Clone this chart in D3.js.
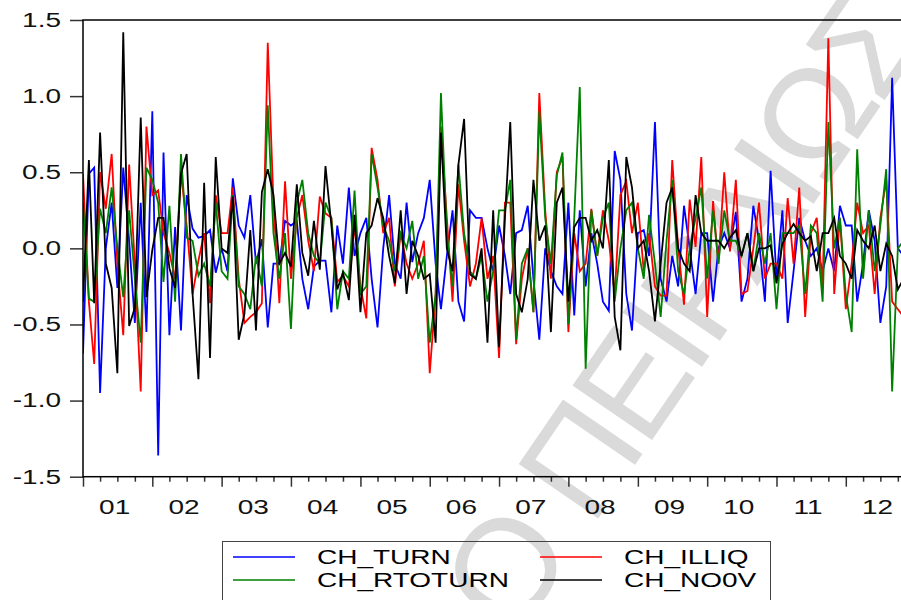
<!DOCTYPE html>
<meta charset="utf-8">
<style>
body { margin: 0; background: #fff; }
svg { display: block; font-family: "Liberation Sans", Arial, sans-serif; }
.axis text { font-size: 20px; fill: #111; }
.axis path { display: none; }
.axis line { stroke: #333; }
.series { fill: none; stroke-width: 1.8; stroke-linejoin: miter; }
.legend text { font-size: 20px; fill: #000; }
.mark { font-size: 140px; fill: #dadada; letter-spacing: -6px; }
</style>
<svg width="901" height="600"></svg>
<script src="https://cdn.jsdelivr.net/npm/d3@7"></script>
<script>

// monthly observations, 2001M01 onwards
var chTurn = [
  -0.69, 0.49, 0.53, -0.95, 0.0, 0.3, -0.26, 0.53, 0.05, -0.49, 0.3, -0.55,
  0.9, -1.36, 0.63, -0.57, 0.14, -0.54, 0.35, 0.13, 0.07, 0.08, 0.12, -0.16,
  0.0, -0.15, 0.46, 0.15, 0.07, 0.35, -0.1, 0.06, -0.52, -0.1, -0.1, 0.18,
  0.15, 0.18, -0.2, -0.4, -0.12, -0.08, -0.08, -0.42, 0.15, -0.1, 0.4, -0.05,
  0.1, 0.2, -0.2, -0.52, 0.0, 0.35, -0.1, -0.2, 0.3, -0.09, 0.1, 0.2,
  0.45, -0.1, -0.4, -0.05, 0.25, -0.35, -0.48, 0.25, 0.2, 0.2, 0.0, -0.15,
  0.15, -0.05, -0.3, 0.1, 0.12, 0.28, -0.2, -0.6, 0.0, -0.15, -0.25, -0.3,
  0.3, -0.44, 0.25, -0.25, 0.1, -0.1, -0.35, -0.41, 0.64, 0.45, -0.3, -0.54,
  0.1, 0.12, -0.05, 0.83, -0.2, -0.35, -0.05, -0.25, 0.28, 0.0, -0.3, 0.1,
  0.1, -0.35, 0.0, 0.1, 0.0, 0.24, -0.35, -0.2, 0.28, 0.05, -0.35, 0.51,
  -0.2, 0.25, -0.49, -0.15, 0.2, 0.05, -0.05, 0.0, -0.15, 0.0, -0.15, 0.28,
  0.15, 0.15, -0.35, -0.1, 0.25, 0.05, -0.49, -0.25, 1.12, 0.0, -0.05
];

var chIlliq = [
  0.49, -0.35, -0.76, 0.5, 0.26, 0.62, -0.1, -0.57, 0.55, -0.1, -0.94, 0.8,
  0.35, 0.38, 0.1, -0.03, -0.2, 0.5, 0.15, -0.3, -0.08, 0.1, -0.36, 0.35,
  0.1, 0.1, 0.4, -0.2, -0.49, -0.45, -0.42, -0.36, 1.35, 0.3, -0.36, 0.44,
  -0.2, 0.2, 0.35, 0.05, -0.15, 0.34, 0.23, 0.2, -0.22, -0.18, -0.25, 0.15,
  -0.25, -0.46, 0.66, 0.45, 0.1, 0.2, -0.25, 0.1, -0.1, -0.2, -0.1, 0.05,
  -0.82, -0.3, 0.8, 0.2, -0.35, 0.42, 0.05, -0.25, -0.1, 0.2, -0.2, -0.05,
  -0.72, 0.3, 0.3, -0.63, -0.2, 0.0, -0.42, 1.02, 0.25, -0.2, 0.5, 0.6,
  -0.55, 0.1, -0.15, -0.1, 0.26, -0.05, 0.25, 0.05, -0.3, 0.35, 0.44, 0.1,
  0.3, -0.15, 0.1, -0.25, -0.31, -0.31, 0.58, 0.01, -0.37, 0.32, 0.01, 0.6,
  -0.45, 0.31, -0.1, 0.5, -0.02, 0.45, -0.3, -0.28, 0.0, 0.3, -0.2, -0.1,
  -0.1, -0.2, 0.33, -0.1, 0.4, -0.45, 0.1, 0.2, -0.25, 1.38, -0.3, 0.2,
  -0.4, -0.1, 0.3, 0.1, 0.15, -0.3, 0.2, 0.45, -0.35, -0.4, -0.45
];

var chRtoturn = [
  0.3, -0.33, -0.35, 0.26, 0.1, 0.4, 0.0, -0.32, 0.25, -0.2, -0.62, 0.53,
  0.45, 0.3, -0.22, 0.28, -0.35, 0.62, 0.07, 0.05, -0.18, -0.1, -0.25, 0.3,
  -0.15, -0.2, 0.35, -0.25, -0.3, -0.4, -0.05, -0.25, 0.94, 0.1, -0.2, 0.1,
  -0.53, 0.3, 0.45, 0.1, -0.05, -0.1, 0.3, 0.2, -0.4, -0.15, -0.2, 0.38,
  -0.3, -0.25, 0.62, 0.4, 0.15, 0.05, -0.15, 0.1, 0.0, 0.18, -0.2, -0.05,
  -0.62, -0.3, 1.02, 0.1, -0.25, 0.55, 0.1, -0.15, -0.2, -0.05, -0.35, -0.15,
  0.25, 0.25, 0.45, -0.6, -0.1, 0.0, -0.42, 0.9, 0.2, -0.1, 0.48, 0.63,
  -0.5, 0.2, 1.06, -0.79, 0.25, -0.05, 0.2, 0.3, -0.35, 0.0, 0.25, 0.3,
  0.0, -0.2, 0.22, -0.1, -0.45, 0.05, 0.45, -0.15, -0.3, 0.0, 0.2, 0.4,
  -0.2, 0.25, -0.1, 0.25, 0.05, 0.05, -0.05, 0.1, -0.15, 0.1, -0.1, 0.1,
  -0.4, 0.1, 0.1, 0.1, 0.15, -0.3, 0.15, 0.1, -0.35, 0.83, 0.0, 0.2,
  -0.3, -0.55, 0.65, -0.2, 0.25, -0.15, 0.15, 0.52, -0.94, 0.0, 0.05
];

var chNo0v = [
  -0.35, 0.58, -0.36, 0.76, -0.1, -0.26, -0.82, 1.42, -0.51, -0.39, 0.86, -0.32,
  -0.01, 0.2, 0.2, -0.13, -0.26, 0.49, 0.62, -0.3, -0.86, 0.43, -0.72, 0.6,
  0.0, -0.03, 0.34, -0.6, -0.43, 0.12, -0.54, 0.37, 0.52, 0.35, -0.1, -0.03,
  -0.12, 0.42, -0.03, -0.18, 0.18, -0.14, 0.54, 0.15, -0.27, -0.16, -0.34, 0.22,
  -0.42, 0.1, 0.15, 0.33, 0.2, -0.05, -0.23, 0.25, -0.3, 0.05, -0.05, -0.2,
  -0.17, -0.62, 0.76, 0.0, -0.15, 0.55, 0.85, -0.17, -0.2, 0.0, -0.62, 0.25,
  -0.65, 0.2, 0.83, -0.3, -0.42, -0.2, 0.45, 0.05, 0.15, -0.55, 0.3, 0.4,
  -0.35, 0.14, 0.2, 0.2, 0.05, 0.12, 0.0, 0.58, -0.45, -0.67, 0.6, 0.4,
  0.0, 0.05, -0.15, -0.48, -0.1, 0.3, 0.4, 0.0, -0.1, -0.15, 0.35, 0.1,
  0.05, 0.05, 0.05, 0.0, 0.07, 0.12, -0.05, 0.1, -0.15, 0.0, 0.0, 0.02,
  -0.23, 0.03, 0.1, 0.16, 0.1, 0.05, 0.08, -0.15, 0.1, 0.1, 0.2, -0.05,
  -0.1, -0.2, 0.12, 0.05, 0.0, 0.15, -0.15, 0.03, -0.05, -0.27, -0.2
];

var seriesNames = ["CH_TURN", "CH_ILLIQ", "CH_RTOTURN", "CH_NO0V"];
var seriesColors = ["#0000ff", "#ff0000", "#008000", "#000000"];
var yTicks = [-1.5, -1.0, -0.5, 0.0, 0.5, 1.0, 1.5];
var yearLabels = ["01", "02", "03", "04", "05", "06", "07", "08", "09", "10", "11", "12"];

var svg = d3.select("svg");

var plotLeft = 83, plotTop = 20, plotBottom = 476.7, plotRight = 915.3,
    stretch = 1.4;  // the text in the chart is drawn wide

var x = d3.scaleTime()
    .domain([new Date(2001, 0, 1), new Date(2013, 0, 1)])
    .range([plotLeft, plotRight]);

var y = d3.scaleLinear()
    .domain([-1.5, 1.5])
    .range([plotBottom, plotTop]);

function month(i) { return new Date(2001, i, 1); }

// watermark
svg.append("text")
    .attr("class", "mark")
    .attr("transform", "translate(515,640) rotate(-55.6)")
    .text("Ο ΠΕΙΡΑΙΩΣ");

// y axis
var yAxis = svg.append("g")
    .attr("class", "axis")
    .attr("transform", "translate(" + plotLeft + ",0)")
    .call(d3.axisLeft(y).tickValues(yTicks).tickSize(13).tickPadding(9)
      .tickFormat(function(d) { return d.toFixed(1); }));
yAxis.selectAll(".tick text")
    .attr("x", -22 / stretch)
    .attr("transform", "scale(" + stretch + ",1)");
yAxis.selectAll(".tick line").attr("stroke-width", 1.5);

// x axis: quarterly minor ticks, yearly major ticks
var quarters = d3.timeMonth.range(new Date(2001, 0, 1), new Date(2013, 0, 2), 3);
svg.append("g")
    .attr("class", "axis")
    .attr("transform", "translate(0," + plotBottom + ")")
    .call(d3.axisBottom(x).tickValues(quarters).tickSize(5).tickFormat(""))
  .selectAll(".tick line")
    .attr("y2", function(d) { return d.getMonth() === 0 ? 10 : 5; })
    .attr("stroke-width", 1.5);

svg.append("g")
    .attr("class", "axis")
  .selectAll("text")
    .data(yearLabels)
  .enter().append("text")
    .attr("transform", function(d, i) {
      var cx = (x(new Date(2001 + i, 0, 1)) + x(new Date(2002 + i, 0, 1))) / 2 - 3;
      return "translate(" + cx + ",514) scale(" + stretch + ",1)";
    })
    .attr("text-anchor", "middle")
    .text(function(d) { return d; });

// clip plot
svg.append("clipPath").attr("id", "plot")
  .append("rect").attr("x", plotLeft).attr("y", plotTop)
    .attr("width", plotRight - plotLeft).attr("height", plotBottom - plotTop);

var line = d3.line()
    .x(function(d, i) { return x(month(i)); })
    .y(function(d) { return y(d); });

var plot = svg.append("g").attr("clip-path", "url(#plot)");
[chTurn, chIlliq, chRtoturn, chNo0v].forEach(function(s, k) {
  plot.append("path")
      .attr("class", "series")
      .attr("stroke", seriesColors[k])
      .attr("d", line(s));
});

// frame
svg.append("rect")
    .attr("x", plotLeft).attr("y", plotTop)
    .attr("width", plotRight - plotLeft).attr("height", plotBottom - plotTop)
    .attr("fill", "none").attr("stroke", "#000").attr("stroke-width", 1.5);

// legend
var legend = svg.append("g").attr("class", "legend");
legend.append("rect")
    .attr("x", 222.5).attr("y", 541.5).attr("width", 548).attr("height", 70)
    .attr("fill", "none").attr("stroke", "#444").attr("stroke-width", 1);

var item = legend.selectAll(".item")
    .data(seriesNames)
  .enter().append("g")
    .attr("transform", function(d, i) { return "translate(" + (i % 2 ? 540 : 233) + "," + (i < 2 ? 557 : 580) + ")"; });

item.append("line")
    .attr("x1", 0).attr("x2", 62)
    .attr("stroke", function(d, i) { return seriesColors[i]; })
    .attr("stroke-width", 1.5);

item.append("text")
    .attr("transform", "translate(84,0) scale(" + stretch + ",1)")
    .attr("dy", "0.35em")
    .text(function(d) { return d; });

</script>
